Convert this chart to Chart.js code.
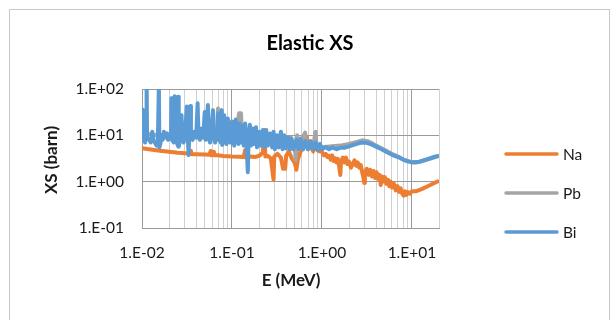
<!DOCTYPE html>
<html>
<head>
<meta charset="utf-8">
<script src="https://cdn.jsdelivr.net/npm/chart.js@4/dist/chart.umd.min.js"></script>
<style>
html,body{margin:0;padding:0;background:#fff;}
canvas{display:block;}
</style>
</head>
<body>
<canvas id="c" width="611" height="320"></canvas>
<script>
// ---- Data ----
const seriesNames = ['Na', 'Pb', 'Bi'];

const naE = [0.0100,0.0120,0.0150,0.0200,0.0250,0.0300,0.0340,0.0350,0.0355,0.0400,0.0500,0.0560,0.0580,0.0590,0.0630,0.0640,0.0700,0.0800,0.0900,
  0.100,0.120,0.135,0.140,0.145,0.160,0.180,0.200,0.220,0.230,0.235,0.250,0.270,0.290,0.295,0.320,0.350,0.370,0.390,0.400,0.430,0.460,0.500,0.520,0.540,0.580,0.620,0.660,0.680,0.700,0.750,0.800,0.850,0.880,0.920,
  1.00,1.05,1.10,1.15,1.20,1.25,1.30,1.35,1.40,1.45,1.50,1.55,1.60,1.63,1.70,1.78,1.85,1.92,2.00,2.10,2.20,2.30,2.40,2.50,2.60,2.70,2.80,2.90,2.95,3.00,3.15,3.30,3.45,3.60,3.75,3.90,4.05,4.20,4.35,4.50,4.65,4.80,5.00,5.20,5.40,5.60,5.80,6.00,6.30,6.60,6.90,7.20,7.50,7.80,8.10,8.40,8.70,9.00,9.50,
  10.0,11.0,12.0,13.0,14.0,16.0,18.0,20.0];
const naXS = [5.3,5.0,4.7,4.4,4.2,4.1,4.0,4.6,3.9,3.9,3.85,3.8,4.6,3.7,4.4,3.7,3.7,3.6,3.55,
  3.5,3.45,3.4,4.8,3.3,3.5,3.4,3.6,4.2,13,3.5,3.6,3.2,1.1,3.5,4.0,3.3,1.9,1.9,3.6,4.5,3.2,2.5,1.8,3.0,4.5,5.5,8.5,9.3,5.0,5.8,4.5,8.5,5.0,4.6,
  4.4,3.7,4.0,3.4,3.6,3.0,3.7,2.8,3.2,2.6,3.1,2.2,1.4,2.7,3.3,2.6,3.3,2.4,2.7,2.0,2.4,2.9,2.2,2.6,2.0,2.3,1.6,1.2,0.94,1.6,1.9,1.4,1.8,1.3,1.7,1.2,1.6,1.15,1.4,0.85,1.3,1.0,1.25,0.9,1.1,0.8,1.0,0.75,0.9,0.65,0.8,0.6,0.72,0.55,0.5,0.62,0.52,0.6,0.55,
  0.62,0.62,0.66,0.7,0.75,0.85,0.95,1.05];

const pbE = [0.0100,0.0105,0.0120,0.0150,0.0200,0.0250,0.0300,0.0400,0.0500,0.0600,0.0680,0.0700,0.0720,0.0800,0.0900,
  0.100,0.110,0.120,0.123,0.126,0.130,0.150,0.200,0.250,0.300,0.350,0.450,0.470,0.500,0.510,0.530,0.550,0.650,0.670,0.800,0.850,0.870,
  1.00,1.30,1.60,2.00,2.50,2.80,3.20,3.60,4.00,5.00,6.00,7.00,8.00,10.0,12.0,14.0,17.0,20.0];
const pbXS = [14,10.5,10.5,10,10,9.5,9.5,9,9,8.5,9,38,9,8.5,8.5,
  9,10,30,24,30,8,7.5,7,7,6.5,6.5,9,6,6,2.9,10,6,11.5,6,6,12,5.5,
  5.5,5.8,6.0,6.5,7.3,7.8,7.5,6.8,6.0,4.8,4.0,3.5,3.0,2.65,2.65,2.9,3.25,3.6];

const biE = [0.01000,0.01015,0.01040,0.01080,0.01110,0.01125,0.01140,0.01200,0.01250,0.01300,0.01350,0.01400,0.01450,0.01500,0.01540,0.01560,0.01600,0.01650,0.01700,0.01750,0.01800,0.01900,0.01950,
  0.02000,0.02100,0.02120,0.02150,0.02250,0.02300,0.02330,0.02400,0.02500,0.02520,0.02560,0.02650,0.02750,0.02800,0.02900,0.03000,0.03150,0.03200,0.03300,0.03350,0.03450,0.03500,0.03650,0.03800,
  0.04000,0.04150,0.04250,0.04400,0.04600,0.04800,0.04980,0.05100,0.05200,0.05400,0.05500,0.05700,0.05900,0.06150,0.06300,0.06500,0.06700,0.06900,0.07000,0.07200,0.07500,0.07700,0.07800,0.08000,0.08200,0.08400,0.08700,0.09000,0.09300,0.09600,
  0.1000,0.1030,0.1060,0.1100,0.1140,0.1180,0.1220,0.1260,0.1300,0.1350,0.1400,0.1450,0.1500,0.1530,0.1580,0.1630,0.1700,0.1750,0.1850,0.1900,0.2000,0.2100,0.2200,0.2300,0.2400,0.2500,0.2650,0.2800,0.2900,0.3000,0.3150,0.3300,0.3500,0.3650,0.3800,0.4000,0.4200,0.4400,0.4600,0.4800,0.5200,0.5500,0.5800,0.6200,0.6600,0.7000,0.7500,0.8000,0.8500,0.9000,0.9500,
  1.00,1.10,1.20,1.30,1.45,1.60,1.80,2.00,2.30,2.60,2.90,3.20,3.60,4.00,4.60,5.30,6.00,7.00,8.00,9.00,10.0,11.0,12.0,14.0,16.0,18.0,20.0];
const biXS = [36,14,9,7,9,150,9,8,7,12,7.5,6.8,6,7,130,5.5,6.5,10,8,12,9,11,8,
  10,9,63,8,7,70,9,8,6,68,5.7,8,27,9,7,10,42,12,3.75,11,43,10,8,12,
  9,49,10,8,14,9,32,8,12,45,9,7,13,35,9,7,12,8,30,10,7,35,6.2,11,27,8,6.5,23,9,7,
  20,8,6,22,8,6.5,18,7,16,6,18,7,1.6,8,17,6,14,6.5,15,5.5,12,6,13,5.5,13,6,11,5.5,12,5,10,5.5,12,5,10,5.2,9,5,8.5,5,8,5,8.5,5,7.5,5,7.5,5,7,4.8,6.5,
  5.0,5.6,5.0,5.5,5.0,5.4,5.4,5.8,6.3,6.8,7.0,6.8,6.3,5.7,5.0,4.3,3.8,3.4,3.0,2.75,2.6,2.6,2.7,2.95,3.2,3.45,3.65];

// ---- Axis ticks ----
const xMajorTicks = [0.01, 0.1, 1, 10];
const xTickLabels = ['1.E-02', '1.E-01', '1.E+00', '1.E+01'];
const xAllTicks = [0.01,0.02,0.03,0.04,0.05,0.06,0.07,0.08,0.09,
  0.1,0.2,0.3,0.4,0.5,0.6,0.7,0.8,0.9,
  1,2,3,4,5,6,7,8,9,10,20];
const yTicks = [0.1, 1, 10, 100];
const yTickLabels = ['1.E-01', '1.E+00', '1.E+01', '1.E+02'];

const colors = ['#ED7D31', '#A5A5A5', '#5B9BD5'];
const FONT = 'Lato, "Open Sans", sans-serif';
const TXT = '#1a1a1a';

function pts(xs, ys){ return xs.map((x,i)=>({x:x, y:ys[i]})); }
function isMajor(v){ return xMajorTicks.some(m => Math.abs(m - v) / m < 1e-6); }
function labelFor(list, labels, v){
  const i = list.findIndex(m => Math.abs(m - v) / m < 1e-6);
  return i >= 0 ? labels[i] : '';
}

const decor = {
  id: 'decor',
  afterDraw(chart){
    const ctx = chart.ctx;
    ctx.save();
    ctx.strokeStyle = '#c9c9c9';
    ctx.lineWidth = 1;
    ctx.strokeRect(9.5, 9.5, 600, 330);
    ctx.fillStyle = '#000';
    ctx.textAlign = 'center';
    ctx.textBaseline = 'middle';
    ctx.font = 'bold 20px ' + FONT;
    ctx.fillText('Elastic XS', 310, 44);
    ctx.font = 'bold 17px ' + FONT;
    ctx.fillStyle = TXT;
    ctx.fillText('E (MeV)', 291, 281);
    ctx.save();
    ctx.translate(52, 160);
    ctx.rotate(-Math.PI / 2);
    ctx.fillText('XS (barn)', 0, 0);
    ctx.restore();
    const ly = [154, 193, 232];
    ctx.lineCap = 'round';
    ctx.lineWidth = 3.5;
    ctx.textAlign = 'left';
    ctx.font = '15.5px ' + FONT;
    seriesNames.forEach((n, i) => {
      ctx.strokeStyle = colors[i];
      ctx.beginPath();
      ctx.moveTo(506, ly[i]);
      ctx.lineTo(557, ly[i]);
      ctx.stroke();
      ctx.fillStyle = TXT;
      ctx.fillText(n, 563, ly[i] + 1);
    });
    ctx.restore();
  }
};

new Chart(document.getElementById('c'), {
  type: 'scatter',
  data: {
    datasets: [
      {label: seriesNames[0], data: pts(naE, naXS), borderColor: colors[0], backgroundColor: colors[0], order: 2},
      {label: seriesNames[1], data: pts(pbE, pbXS), borderColor: colors[1], backgroundColor: colors[1], order: 1},
      {label: seriesNames[2], data: pts(biE, biXS), borderColor: colors[2], backgroundColor: colors[2], order: 0}
    ].map(d => Object.assign(d, {showLine: true, pointRadius: 0, borderWidth: 4, fill: false, tension: 0, borderJoinStyle: 'round'}))
  },
  options: {
    responsive: false,
    animation: false,
    events: [],
    devicePixelRatio: 1,
    layout: {padding: {left: 0, top: 89, right: 172, bottom: 0}},
    plugins: {legend: {display: false}, title: {display: false}, tooltip: {enabled: false}},
    scales: {
      x: {
        type: 'logarithmic',
        min: 0.01, max: 20,
        afterBuildTicks: s => { s.ticks = xAllTicks.map(v => ({value: v})); },
        afterFit: s => { s.height = 92; },
        grid: {
          color: c => (c.tick && isMajor(c.tick.value)) ? '#9a9a9a' : '#d0d0d0',
          lineWidth: 1, drawTicks: false
        },
        border: {display: true, color: '#9a9a9a'},
        ticks: {
          autoSkip: false, maxRotation: 0, minRotation: 0, padding: 16,
          color: TXT, font: {family: FONT, size: 15.5},
          callback: v => labelFor(xMajorTicks, xTickLabels, v)
        }
      },
      y: {
        type: 'logarithmic',
        min: 0.1, max: 100,
        afterBuildTicks: s => { s.ticks = yTicks.map(v => ({value: v})); },
        afterFit: s => { s.width = 142; },
        grid: {color: '#9a9a9a', lineWidth: 1, drawTicks: false},
        border: {display: true, color: '#9a9a9a'},
        ticks: {
          autoSkip: false, padding: 18,
          color: TXT, font: {family: FONT, size: 15.5},
          callback: v => labelFor(yTicks, yTickLabels, v)
        }
      }
    }
  },
  plugins: [decor]
});
</script>
</body>
</html>
